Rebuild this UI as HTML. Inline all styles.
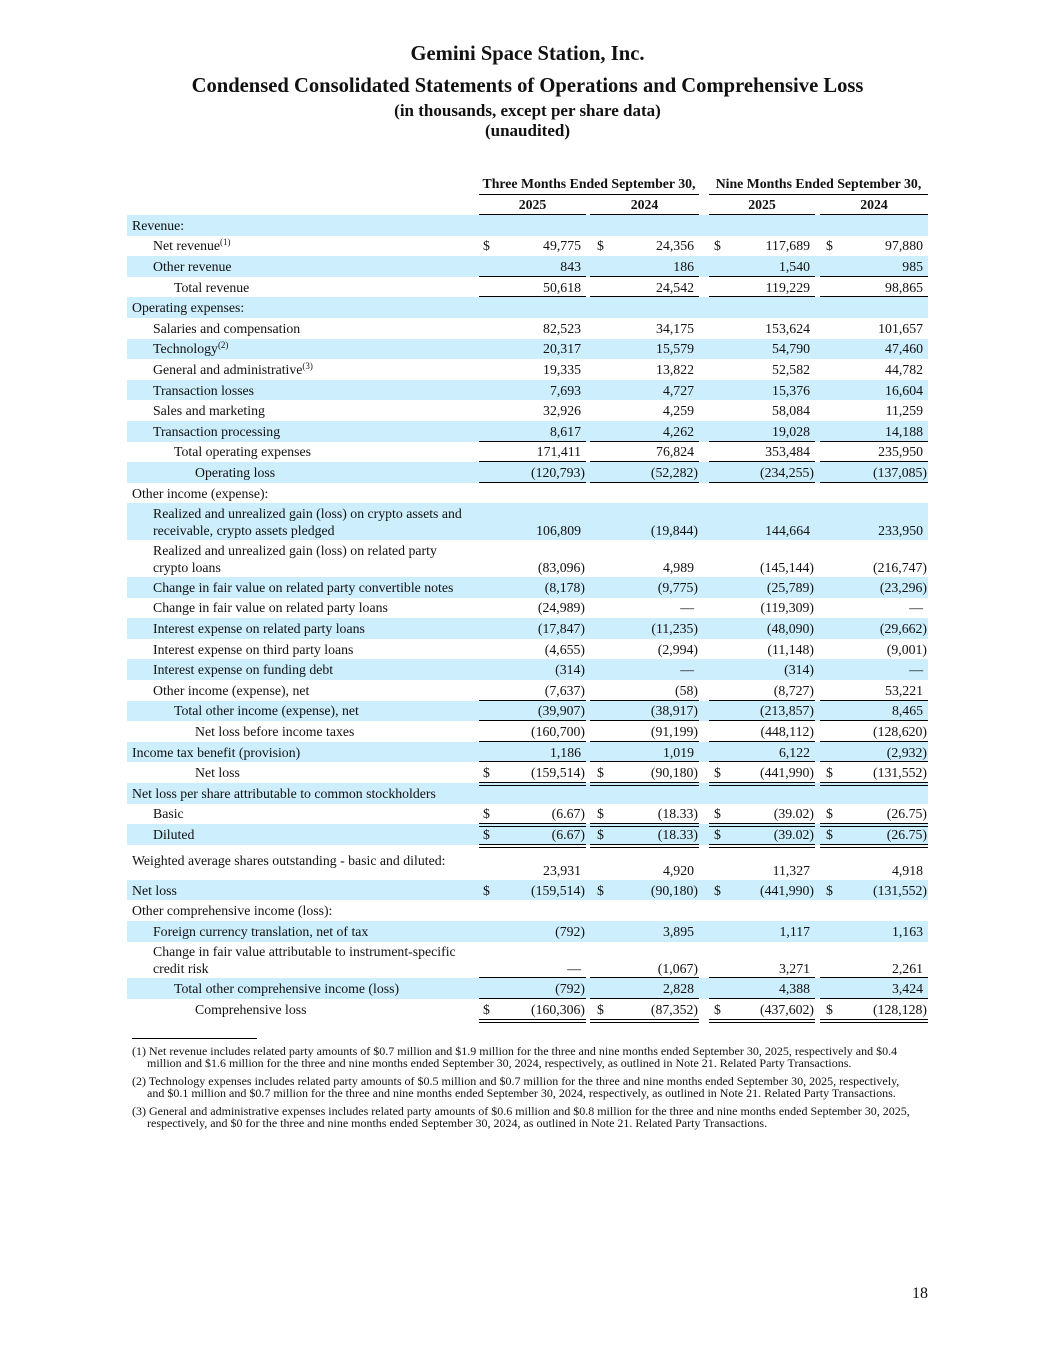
<!DOCTYPE html>
<html><head><meta charset="utf-8">
<style>
body{margin:0;background:#fff;font-family:"Liberation Serif",serif;color:#111;}
#page{position:relative;width:1055px;height:1365px;overflow:hidden;}
.t{position:absolute;left:0;width:1055px;text-align:center;font-weight:bold;}
.row{position:absolute;left:127px;width:801px;}
.shade{background:#cdeefc;}
.lbl{position:absolute;font-size:13.8px;line-height:17px;white-space:nowrap;}
.num{position:absolute;font-size:13.8px;line-height:17px;text-align:right;white-space:nowrap;}
.dol{position:absolute;font-size:13.8px;line-height:17px;}
.ln{position:absolute;height:0;border-top:1.5px solid #000;}
.dl{position:absolute;height:2px;border-top:1.5px solid #000;border-bottom:1.5px solid #000;}
.hd{position:absolute;font-size:13.8px;font-weight:bold;text-align:center;white-space:nowrap;}
.fn{position:absolute;left:132px;width:800px;font-size:12px;line-height:12px;white-space:nowrap;}
sup{font-size:9px;line-height:0;vertical-align:5px;}
</style></head><body>
<div id="page">
<div class="t" style="top:43px;font-size:20.6px">Gemini Space Station, Inc.</div>
<div class="t" style="top:75px;font-size:20.6px">Condensed Consolidated Statements of Operations and Comprehensive Loss</div>
<div class="t" style="top:101px;font-size:17px">(in thousands, except per share data)</div>
<div class="t" style="top:121px;font-size:17px">(unaudited)</div>

<div class="hd" style="left:479px;width:220px;top:176px">Three Months Ended September 30,</div>
<div class="hd" style="left:709px;width:219px;top:176px">Nine Months Ended September 30,</div>
<div class="ln" style="left:479px;width:220px;top:194px"></div>
<div class="ln" style="left:709px;width:219px;top:194px"></div>
<div class="hd" style="left:479px;width:107px;top:197px">2025</div>
<div class="hd" style="left:590px;width:109px;top:197px">2024</div>
<div class="hd" style="left:709px;width:106px;top:197px">2025</div>
<div class="hd" style="left:820px;width:108px;top:197px">2024</div>
<div class="ln" style="left:479px;width:107px;top:214px"></div>
<div class="ln" style="left:590px;width:109px;top:214px"></div>
<div class="ln" style="left:709px;width:106px;top:214px"></div>
<div class="ln" style="left:820px;width:108px;top:214px"></div>

<div class="ln" style="left:132px;width:125px;top:1038px;border-top-width:1px"></div>
<div class="fn" style="top:1045px">(1) Net revenue includes related party amounts of $0.7 million and $1.9 million for the three and nine months ended September 30, 2025, respectively and $0.4<br>&nbsp;&nbsp;&nbsp;&nbsp;&nbsp;million and $1.6 million for the three and nine months ended September 30, 2024, respectively, as outlined in Note 21. Related Party Transactions.</div>
<div class="fn" style="top:1075px">(2) Technology expenses includes related party amounts of $0.5 million and $0.7 million for the three and nine months ended September 30, 2025, respectively,<br>&nbsp;&nbsp;&nbsp;&nbsp;&nbsp;and $0.1 million and $0.7 million for the three and nine months ended September 30, 2024, respectively, as outlined in Note 21. Related Party Transactions.</div>
<div class="fn" style="top:1105px">(3) General and administrative expenses includes related party amounts of $0.6 million and $0.8 million for the three and nine months ended September 30, 2025,<br>&nbsp;&nbsp;&nbsp;&nbsp;&nbsp;respectively, and $0 for the three and nine months ended September 30, 2024, as outlined in Note 21. Related Party Transactions.</div>
<div style="position:absolute;left:912px;top:1285px;font-size:16px">18</div>
</div>
<script>
const labels=["Revenue:","Net revenue<sup>(1)</sup>","Other revenue","Total revenue","Operating expenses:","Salaries and compensation","Technology<sup>(2)</sup>","General and administrative<sup>(3)</sup>","Transaction losses","Sales and marketing","Transaction processing","Total operating expenses","Operating loss","Other income (expense):","Realized and unrealized gain (loss) on crypto assets and<br>receivable, crypto assets pledged","Realized and unrealized gain (loss) on related party<br>crypto loans","Change in fair value on related party convertible notes","Change in fair value on related party loans","Interest expense on related party loans","Interest expense on third party loans","Interest expense on funding debt","Other income (expense), net","Total other income (expense), net","Net loss before income taxes","Income tax benefit (provision)","Net loss","Net loss per share attributable to common stockholders","Basic","Diluted","Weighted average shares outstanding - basic and diluted:","Net loss","Other comprehensive income (loss):","Foreign currency translation, net of tax","Change in fair value attributable to instrument-specific<br>credit risk","Total other comprehensive income (loss)","Comprehensive loss"];
const indents=[0,1,1,2,0,1,1,1,1,1,1,2,3,0,1,1,1,1,1,1,1,1,2,3,0,3,0,1,1,0,0,0,1,1,2,3];
const q2025=["","49,775","843","50,618","","82,523","20,317","19,335","7,693","32,926","8,617","171,411","(120,793)","","106,809","(83,096)","(8,178)","(24,989)","(17,847)","(4,655)","(314)","(7,637)","(39,907)","(160,700)","1,186","(159,514)","","(6.67)","(6.67)","23,931","(159,514)","","(792)","—","(792)","(160,306)"];
const q2024=["","24,356","186","24,542","","34,175","15,579","13,822","4,727","4,259","4,262","76,824","(52,282)","","(19,844)","4,989","(9,775)","—","(11,235)","(2,994)","—","(58)","(38,917)","(91,199)","1,019","(90,180)","","(18.33)","(18.33)","4,920","(90,180)","","3,895","(1,067)","2,828","(87,352)"];
const n2025=["","117,689","1,540","119,229","","153,624","54,790","52,582","15,376","58,084","19,028","353,484","(234,255)","","144,664","(145,144)","(25,789)","(119,309)","(48,090)","(11,148)","(314)","(8,727)","(213,857)","(448,112)","6,122","(441,990)","","(39.02)","(39.02)","11,327","(441,990)","","1,117","3,271","4,388","(437,602)"];
const n2024=["","97,880","985","98,865","","101,657","47,460","44,782","16,604","11,259","14,188","235,950","(137,085)","","233,950","(216,747)","(23,296)","—","(29,662)","(9,001)","—","53,221","8,465","(128,620)","(2,932)","(131,552)","","(26.75)","(26.75)","4,918","(131,552)","","1,163","2,261","3,424","(128,128)"];
const dollars=[1,25,27,28,30,35];
const lines={2:1,3:1,10:1,11:1,12:1,21:1,22:1,23:1,24:1,25:2,27:2,28:2,33:1,34:1,35:2};
const cols=[{l:479,w:107,d:483},{l:590,w:109,d:597},{l:709,w:106,d:714},{l:820,w:108,d:826}];
const page=document.getElementById('page');
let y=215;
for(let i=0;i<labels.length;i++){
  const two=labels[i].includes('<br>');
  const h=two?36.8:(i===29?35:20.6);
  const r=document.createElement('div');
  r.className='row'+(i%2===0?' shade':'');
  r.style.top=y+'px';r.style.height=h+'px';
  
  
  page.insertBefore(r,page.firstChild);
  const lb=document.createElement('div');
  lb.className='lbl';
  lb.innerHTML=labels[i];
  lb.style.left=(132+indents[i]*21)+'px';
  lb.style.top=(two?y+1.5:(i===29?y+7:y+1.8))+'px';
  
  
  page.appendChild(lb);
  const vals=[q2025[i],q2024[i],n2025[i],n2024[i]];
  const vy=two?y+h-18.5:(i===29?y+h-18:y+1.8);
  cols.forEach((c,k)=>{
    if(vals[k]){
      const n=document.createElement('div');
      n.className='num';
      const paren=vals[k].endsWith(')');
      n.style.right=(1055-(c.l+c.w)+(paren?1:5))+'px';
      n.style.top=vy+'px';
      n.textContent=vals[k];
      
      
      page.appendChild(n);
    }
    if(dollars.includes(i)){
      const d=document.createElement('div');
      d.className='dol';d.style.left=c.d+'px';d.style.top=vy+'px';d.textContent='$';
      
      
      page.appendChild(d);
    }
    if(lines[i]){
      const l=document.createElement('div');
      l.className=lines[i]===2?'dl':'ln';
      l.style.left=c.l+'px';l.style.width=c.w+'px';l.style.top=(y+h-1)+'px';
      page.appendChild(l);
    }
  });
  y+=h;
}
</script>
</body></html>
